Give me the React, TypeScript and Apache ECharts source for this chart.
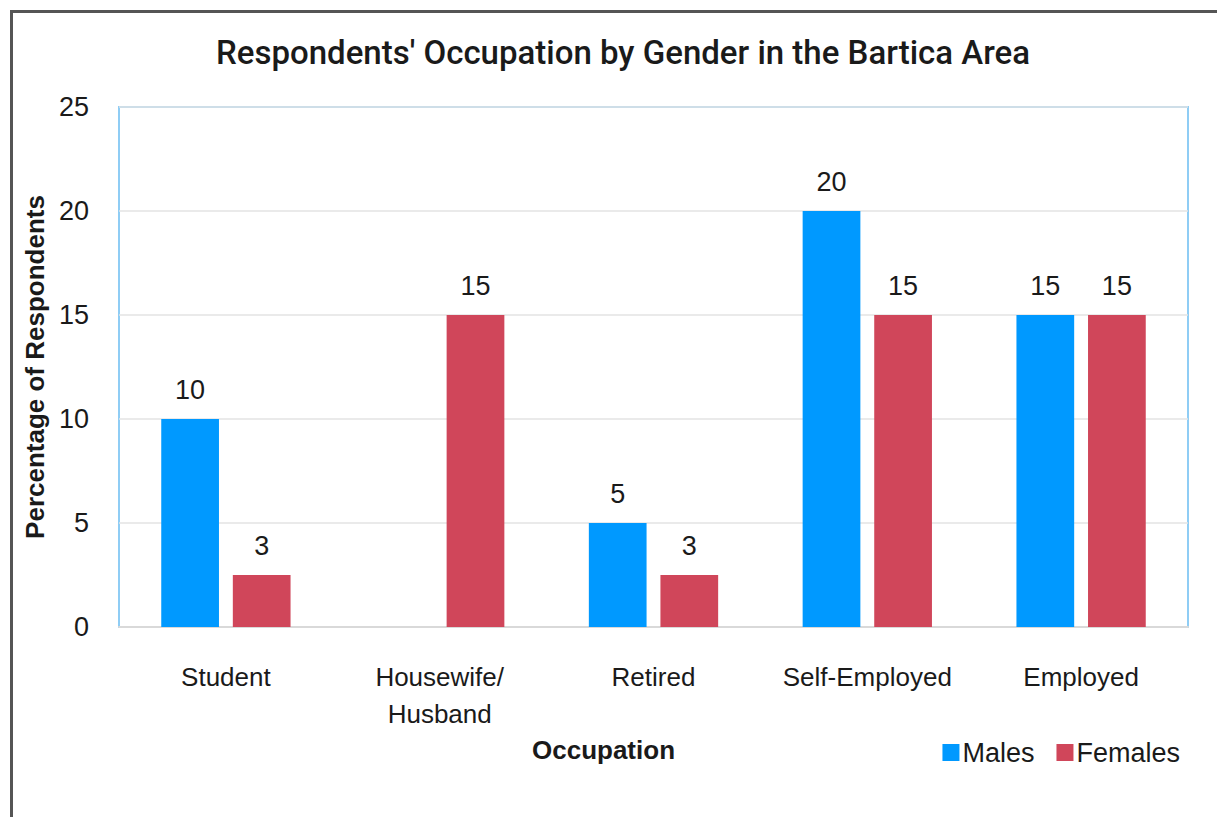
import React, { useEffect, useRef } from "react";
import * as echarts from "echarts";

const categories = ["Student", "Housewife/\nHusband", "Retired", "Self-Employed", "Employed"];
const males = [10, 0, 5, 20, 15];
const females = [2.5, 15, 2.5, 15, 15];
const yTicks = [0, 5, 10, 15, 20, 25];

const FONT = "'Liberation Sans', Arial, sans-serif";

export default function App() {
  const ref = useRef<HTMLDivElement>(null);
  useEffect(() => {
    const chart = echarts.init(ref.current!, null, { renderer: "svg" });
    const label = {
      show: true,
      position: "top",
      distance: 16,
      color: "#1a1a1a",
      fontFamily: FONT,
      fontSize: 27,
      formatter: (p: any) => (p.value === 0 ? "" : String(Math.round(p.value))),
    };
    chart.setOption({
      animation: false,
      backgroundColor: "#ffffff",
      textStyle: { fontFamily: FONT },
      title: {
        text: "Respondents' Occupation by Gender in the Bartica Area",
        left: 618,
        textAlign: "center",
        top: 31,
        textStyle: { fontFamily: "Roboto, 'Liberation Sans', sans-serif", fontSize: 33, fontWeight: 500, color: "#1a1a1a" },
      },
      legend: {
        right: 32,
        top: 734,
        itemWidth: 17,
        itemHeight: 17,
        itemGap: 22,
        icon: "rect",
        textStyle: { fontFamily: FONT, fontSize: 27, color: "#1a1a1a", padding: [0, 0, 0, -2] },
        data: ["Males", "Females"],
      },
      grid: {
        left: 119,
        right: 29,
        top: 107,
        bottom: 190,
        show: true,
        borderColor: "#8fcdf5",
        borderWidth: 2,
      },
      xAxis: {
        type: "category",
        data: categories,
        name: "Occupation",
        nameLocation: "middle",
        nameGap: 108,
        nameTextStyle: {
          fontFamily: FONT,
          fontSize: 26,
          fontWeight: "bold",
          color: "#1a1a1a",
          padding: [0, 100, 0, 0],
        },
        axisLine: { lineStyle: { color: "#d9d9d9", width: 2 } },
        axisTick: { show: false },
        axisLabel: {
          fontFamily: FONT,
          fontSize: 26,
          color: "#1a1a1a",
          margin: 31,
          lineHeight: 37,
          interval: 0,
        },
      },
      yAxis: {
        type: "value",
        min: 0,
        max: 25,
        interval: 5,
        name: "Percentage of Respondents",
        nameLocation: "middle",
        nameGap: 71,
        nameTextStyle: { fontFamily: FONT, fontSize: 26, fontWeight: "bold", color: "#1a1a1a" },
        axisLine: { show: false },
        axisTick: { show: false },
        splitLine: { lineStyle: { color: "#e3e3e3", width: 1.5 } },
        axisLabel: {
          fontFamily: FONT,
          fontSize: 27,
          color: "#1a1a1a",
          margin: 30,
          formatter: (v: number) => (yTicks.includes(v) ? String(v) : ""),
        },
      },
      series: [
        {
          name: "Males",
          type: "bar",
          data: males,
          barWidth: "27%",
          barGap: "24%",
          itemStyle: { color: "#0099ff" },
          label,
        },
        {
          name: "Females",
          type: "bar",
          data: females,
          barWidth: "27%",
          itemStyle: { color: "#d0465a" },
          label,
        },
      ],
      graphic: [
        {
          type: "rect",
          left: 9,
          top: 9,
          shape: { x: 0, y: 0, width: 1300, height: 900 },
          style: { fill: "none", stroke: "#555555", lineWidth: 3 },
          silent: true,
          z: 100,
        },
      ],
    });
    return () => chart.dispose();
  }, []);
  return (
    <div
      ref={ref}
      style={{ position: "fixed", left: 0, top: 0, width: 1217, height: 817 }}
    />
  );
}
